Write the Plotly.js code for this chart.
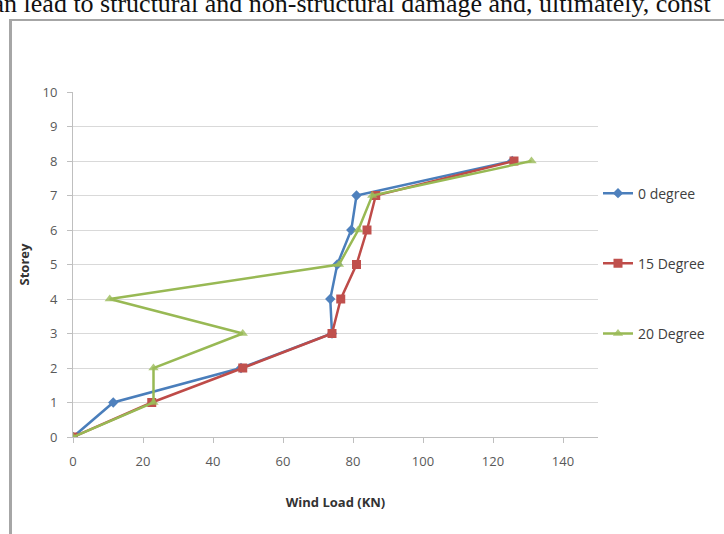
<!DOCTYPE html>
<html>
<head>
<meta charset="utf-8">
<script src="https://cdn.plot.ly/plotly-3.0.1.min.js"></script>
<style>
  html, body { margin: 0; padding: 0; background: #ffffff; width: 724px; height: 534px; overflow: hidden; }
  #topText { position: absolute; left: -19px; top: -9px; white-space: nowrap; font-family: "Liberation Serif", "Times New Roman", serif; font-size: 26px; line-height: 26px; color: #111; }
  #frameTop { position: absolute; left: 9px; top: 19px; width: 715px; height: 2px; background: #a6a6a6; }
  #frameLeft { position: absolute; left: 9px; top: 19px; width: 3px; height: 515px; background: #a6a6a6; }
  #chart { position: absolute; left: 0; top: 0; width: 724px; height: 534px; }
</style>
</head>
<body>
<div id="topText">can lead to structural and non-structural damage and, ultimately, const</div>
<div id="frameTop"></div>
<div id="frameLeft"></div>
<div id="chart"></div>
<script>
// Storey levels
var storeys = [0, 1, 2, 3, 4, 5, 6, 7, 8];
// Wind load (KN) per storey for each wind direction
var load0deg  = [0, 11.5, 48, 74, 73.5, 75.5, 79.5, 81, 125.5];
var load15deg = [0, 22.5, 48.5, 74, 76.5, 81, 84, 86.5, 126];
var load20deg = [0, 23, 23, 48.5, 10.5, 76, 81.5, 85.5, 131];
var seriesNames = ["0 degree", "15 Degree", "20 Degree"];
var xTickVals = [0, 20, 40, 60, 80, 100, 120, 140];
var yTickVals = [0, 1, 2, 3, 4, 5, 6, 7, 8, 9, 10];

var traces = [
  {
    x: load0deg, y: storeys, name: seriesNames[0], type: "scatter", mode: "lines+markers",
    line: {color: "#4a7ebb", width: 2.5},
    marker: {symbol: "diamond", size: 8, color: "#4f81bd"},
    legendgroup: "a"
  },
  {
    x: load15deg, y: storeys, name: seriesNames[1], type: "scatter", mode: "lines+markers",
    line: {color: "#be4b48", width: 2.5},
    marker: {symbol: "square", size: 9, color: "#c0504d"},
    legendgroup: "b"
  },
  {
    x: load20deg, y: storeys, name: seriesNames[2], type: "scatter", mode: "lines+markers",
    line: {color: "#98b954", width: 2.5},
    marker: {symbol: "triangle-up", size: 9, color: "#9bbb59", opacity: 0.8},
    legendgroup: "c"
  }
];

var layout = {
  width: 724, height: 534,
  paper_bgcolor: "rgba(0,0,0,0)",
  plot_bgcolor: "rgba(0,0,0,0)",
  margin: {l: 73, r: 126, t: 92, b: 97},
  font: {family: "'Open Sans', Lato, sans-serif", size: 13, color: "#595959"},
  showlegend: true,
  legend: {
    x: 1.0, xanchor: "left", y: 0.752, yanchor: "top",
    tracegroupgap: 49,
    font: {size: 14, color: "#404040"},
    bgcolor: "rgba(0,0,0,0)"
  },
  xaxis: {
    range: [0, 150],
    tickvals: xTickVals,
    showgrid: false,
    zeroline: false,
    showline: true, linecolor: "#bfbfbf", linewidth: 1,
    ticks: "outside", ticklen: 5, tickcolor: "#bfbfbf",
    ticklabelstandoff: 7,
    title: {text: "Wind Load (KN)", font: {size: 13, color: "#333333", weight: "bold"}, standoff: 29}
  },
  yaxis: {
    range: [0, 10],
    tickvals: yTickVals,
    showgrid: true, gridcolor: "#d9d9d9", gridwidth: 1,
    zeroline: false,
    showline: true, linecolor: "#bfbfbf", linewidth: 1,
    ticks: "outside", ticklen: 5, tickcolor: "#bfbfbf",
    ticklabelstandoff: 7,
    title: {text: "Storey", font: {size: 13, color: "#333333", weight: "bold"}, standoff: 9}
  }
};

Plotly.newPlot("chart", traces, layout, {displayModeBar: false, staticPlot: true});
</script>
</body>
</html>
